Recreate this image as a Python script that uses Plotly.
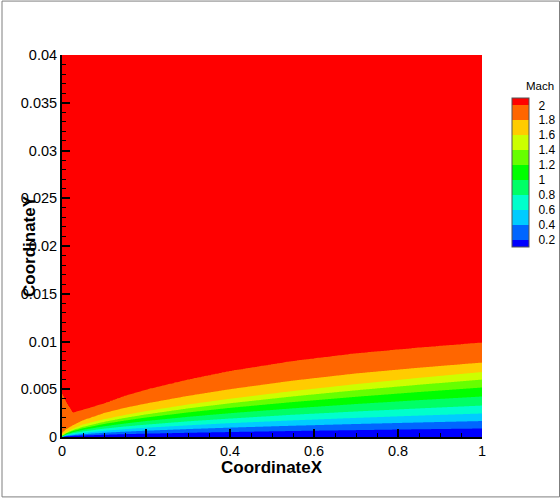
import numpy as np
import plotly.graph_objects as go

# ---- data (heights in units of 1e-3 m) ----
levels = [0.2, 0.4, 0.6, 0.8, 1.0, 1.2, 1.4, 1.6, 1.8, 2.0]
level_labels = ["0.2", "0.4", "0.6", "0.8", "1", "1.2", "1.4", "1.6", "1.8", "2"]
x_stations = [0, 0.01, 0.025, 0.05, 0.1, 0.15, 0.2, 0.3, 0.4, 0.55, 0.7, 0.85, 1.0]
h_m02 = [0.01, 0.06, 0.11, 0.16, 0.23, 0.30, 0.35, 0.44, 0.52, 0.63, 0.72, 0.81, 0.89]
h_m04 = [0.02, 0.12, 0.20, 0.29, 0.44, 0.56, 0.66, 0.83, 0.98, 1.18, 1.36, 1.52, 1.67]
h_m06 = [0.03, 0.17, 0.29, 0.43, 0.65, 0.82, 0.97, 1.22, 1.45, 1.74, 2.00, 2.24, 2.46]
h_m08 = [0.05, 0.23, 0.39, 0.58, 0.87, 1.10, 1.29, 1.64, 1.93, 2.33, 2.67, 2.99, 3.29]
h_m10 = [0.07, 0.29, 0.50, 0.75, 1.12, 1.41, 1.67, 2.11, 2.49, 3.00, 3.45, 3.86, 4.24]
h_m12 = [0.10, 0.36, 0.61, 0.91, 1.36, 1.72, 2.04, 2.57, 3.05, 3.66, 4.21, 4.71, 5.18]
h_m14 = [0.13, 0.41, 0.71, 1.06, 1.58, 2.00, 2.36, 2.99, 3.53, 4.25, 4.89, 5.47, 6.01]
h_m16 = [0.20, 0.50, 0.85, 1.30, 1.85, 2.30, 2.70, 3.40, 4.00, 4.81, 5.53, 6.19, 6.80]
h_m18 = [0.40, 0.80, 1.20, 1.75, 2.50, 3.05, 3.50, 4.30, 5.00, 5.90, 6.65, 7.25, 7.79]
h_m20 = [4.50, 3.60, 2.55, 2.85, 3.50, 4.30, 4.95, 6.00, 6.90, 7.95, 8.75, 9.35, 9.88]
mach_wall = 0.0
mach_free = 2.1
y_top = 0.04

band_colors = ["#0000ff", "#0066ff", "#00ccff", "#00ffcc", "#00ff66", "#00ff00",
               "#66ff00", "#ccff00", "#ffcc00", "#ff6600", "#ff0000"]

# ---- build the field table from the level heights ----
H = np.array([h_m02, h_m04, h_m06, h_m08, h_m10, h_m12, h_m14, h_m16, h_m18, h_m20]) * 1e-3
xg = np.linspace(0, 1, 421)
yg = np.concatenate([np.linspace(0, 0.0125, 420), np.linspace(0.013, y_top, 28)])
Z = np.zeros((len(yg), len(xg)))
for j, xv in enumerate(xg):
    hk = [np.interp(xv, x_stations, H[k]) for k in range(len(levels))]
    py = [0.0] + hk + [y_top]
    pm = [mach_wall] + levels + [mach_free]
    Z[:, j] = np.interp(yg, py, pm)

colorscale = [[i / (len(band_colors) - 1), c] for i, c in enumerate(band_colors)]

# the capture squeezes the page width slightly; lay out on a wider canvas
K = 568 / 560
W = 560 * K
L, R, T, B = 61 * K, 481 * K, 55, 437.5
def px_x(p): return (p * K - L) / (R - L)
def px_y(p): return (B - p) / (B - T)

fig = go.Figure(go.Contour(
    x=xg, y=yg, z=Z,
    contours=dict(start=levels[0], end=levels[-1], size=0.2, coloring="fill", showlines=False),
    line=dict(width=0),
    colorscale=colorscale,
    colorbar=dict(
        x=px_x(511), xanchor="left", xpad=0,
        y=px_y(98), yanchor="top", ypad=0,
        len=149, lenmode="pixels", thickness=17 * K,
        outlinewidth=1, outlinecolor="#555555",
        tickvals=levels, ticktext=level_labels,
        ticks="outside", ticklen=7, tickcolor="rgba(0,0,0,0)",
        tickfont=dict(family="Liberation Sans", size=12, color="black"),
    ),
    hoverinfo="skip",
))

axis_common = dict(
    showgrid=False, zeroline=False, showline=True, linewidth=2, linecolor="black",
    ticks="inside", ticklen=8, tickwidth=2, tickcolor="black",
    tickfont=dict(family="Liberation Sans", size=14.5, color="black"),
)
fig.update_xaxes(range=[0, 1], dtick=0.2, tick0=0,
                 minor=dict(dtick=0.05, ticks="inside", ticklen=4, tickwidth=1, tickcolor="black"),
                 **axis_common)
fig.update_yaxes(range=[0, 0.04], dtick=0.005, tick0=0,
                 minor=dict(dtick=0.001, ticks="inside", ticklen=4, tickwidth=1, tickcolor="black"),
                 **axis_common)

fig.update_layout(
    width=round(W), height=499,
    margin=dict(l=L, r=W - R, t=T, b=499 - B, pad=0),
    paper_bgcolor="white", plot_bgcolor="white",
    showlegend=False,
    annotations=[
        dict(text="CoordinateX", xref="paper", yref="paper", x=0.5, y=px_y(468.5),
             showarrow=False, xanchor="center", yanchor="middle",
             font=dict(family="Liberation Sans", size=17, color="black", weight="bold")),
        dict(text="CoordinateY", xref="paper", yref="paper", x=px_x(28), y=0.5,
             textangle=-90, showarrow=False, xanchor="center", yanchor="middle",
             font=dict(family="Liberation Sans", size=17, color="black", weight="bold")),
        dict(text="Mach", xref="paper", yref="paper", x=px_x(539), y=px_y(86),
             showarrow=False, xanchor="center", yanchor="middle",
             font=dict(family="Liberation Sans", size=11.5, color="black")),
    ],
    shapes=[dict(type="rect", xref="paper", yref="paper",
                 x0=px_x(1), x1=px_x(558.5), y0=px_y(497.5), y1=px_y(1),
                 line=dict(color="#7f7f7f", width=1), fillcolor="rgba(0,0,0,0)")],
)

fig.write_html("out.html", config={"displayModeBar": False},
               post_script="document.body.style.margin='0';document.body.style.overflow='hidden';")
